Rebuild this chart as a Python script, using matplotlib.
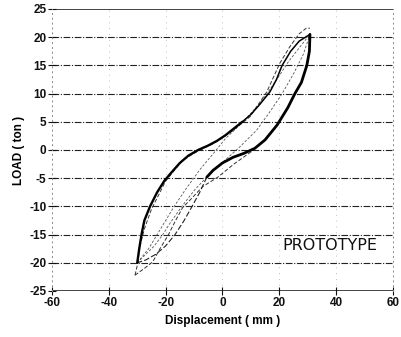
import matplotlib
matplotlib.use("Agg")
import matplotlib.pyplot as plt
import numpy as np

plt.rcParams["axes.unicode_minus"] = False
plt.rcParams["font.family"] = ["Liberation Sans", "DejaVu Sans"]

# ─── data ─────────────────────────────────────────────────────────────────────

x_ticks = [-60, -40, -20, 0, 20, 40, 60]
y_ticks = [-25, -20, -15, -10, -5, 0, 5, 10, 15, 20, 25]

# main cycle, loading branch: heavy lower part, lighter upper part
thick_up_x = [-30, -29.3, -28.5, -27.5, -25.5, -23, -20.5, -18, -15, -12, -8.6, -5, -2, 1, 4, 7]
thick_up_y = [-20, -17.5, -15, -12.5, -10, -7.5, -5.5, -4, -2.3, -1, 0, 0.8, 1.6, 2.6, 3.8, 5]
light_up_x = [7, 10, 13, 16.7, 19, 21, 24, 27, 30.8]
light_up_y = [5, 6.3, 8, 10.3, 12.5, 15, 17.5, 19.3, 20.5]
# main cycle, unloading branch (heavy part)
thick_dn_x = [30.8, 30.6, 29.7, 27.8, 25.5, 23, 19.2, 15, 11.4, 7.5, 3.7, 0, -3.3, -5.5]
thick_dn_y = [20.5, 17.5, 15, 12, 10, 7.5, 4.4, 1.8, 0.3, -0.6, -1.3, -2.3, -3.6, -4.8]
# tail of the unloading branch (thin)
thin_dn_x = [-5.5, -8, -10.7, -13.5, -16.7, -20, -23.5, -27, -30]
thin_dn_y = [-4.8, -7.5, -10, -12.5, -15, -17, -18.5, -19.5, -20]

# outer dashed cycle
outer_up_x = [-30.8, -30, -29, -27.5, -25, -20, -14, -9, -3, 3, 9.7, 15.6, 20.2, 23.7, 27, 29.5, 30.8]
outer_up_y = [-22.2, -20.5, -17, -14, -10.5, -5.5, -1.8, -0.3, 1.2, 3.2, 5.9, 10.3, 15.4, 18.3, 20.6, 21.6, 21.6]
outer_dn_x = [-30.8, -27.5, -24.5, -22, -19, -16.5, -14, -10.7, -7, -1.6, 4, 11]
outer_dn_y = [-22.2, -21.0, -19.8, -17.5, -15, -12.5, -10.2, -8.5, -6.5, -4.8, -2.5, 0]

# inner dashed cycles crossing the loop
inner1_x = [-30, -26, -23, -20, -17, -13, -8, -3, 1, 5, 10, 15, 19, 23, 27.3, 30.8]
inner1_y = [-20, -17.5, -15, -12.5, -10, -7, -3.5, -0.5, 2, 3.9, 6.5, 9.5, 12.4, 15.5, 18.3, 20.5]
inner2_x = [-30, -24, -21, -18.5, -14.3, -10, -5, 0, 6, 12, 17, 21, 25, 28.5, 30.8]
inner2_y = [-20, -17, -15, -13, -10, -7.2, -4.5, -2.2, 0.5, 3.5, 7, 10, 13.5, 17, 20.5]

label_text = "PROTOTYPE"
label_pos = (37.8, -17.0)

# ─── figure ───────────────────────────────────────────────────────────────────

fig = plt.figure(figsize=(4.02, 3.37), dpi=100)
ax = fig.add_axes([0.1294, 0.1365, 0.848, 0.8368])

ax.set_xlim(-60, 60)
ax.set_ylim(-25, 25)

# horizontal grid: dash-dot, vertical grid: faint dots
for yv in y_ticks:
    if yv in (-25, 25):
        ax.axhline(yv, color="#111111", lw=1.1, zorder=1)
    else:
        ax.axhline(yv, color="#222222", lw=0.8, ls=(0, (6, 1.5, 1, 1.5)), zorder=1)
for xv in x_ticks[1:-1]:
    ax.axvline(xv, color="#aaaaaa", lw=0.6, ls=(0, (1, 6)), zorder=1)

for side in ("left", "right"):
    ax.spines[side].set_linestyle((0, (1, 4)))
    ax.spines[side].set_color("#888888")
    ax.spines[side].set_linewidth(0.7)
for side in ("top", "bottom"):
    ax.spines[side].set_visible(False)

# loops
dash = dict(color="#333333", lw=0.7, ls=(0, (4, 2)), zorder=2)
ax.plot(outer_up_x, outer_up_y, **dash)
ax.plot(outer_dn_x, outer_dn_y, **dash)
ax.plot(inner1_x, inner1_y, color="#555555", lw=0.6, ls=(0, (3, 2)), zorder=2)
ax.plot(inner2_x, inner2_y, color="#555555", lw=0.6, ls=(0, (3, 2)), zorder=2)
ax.plot(thin_dn_x, thin_dn_y, color="#222222", lw=0.8, ls=(0, (5, 2)), zorder=3)
ax.plot(thick_up_x, thick_up_y, color="black", lw=1.7, zorder=4,
        solid_capstyle="round", solid_joinstyle="round")
ax.plot(light_up_x, light_up_y, color="black", lw=1.1, zorder=4,
        solid_capstyle="round", solid_joinstyle="round")
ax.plot(thick_dn_x, thick_dn_y, color="black", lw=2.0, zorder=4,
        solid_capstyle="round", solid_joinstyle="round")

ax.text(*label_pos, label_text, ha="center", va="center", fontsize=11.5,
        family=["Liberation Sans Narrow", "DejaVu Sans"], color="#111111")

ax.set_xticks(x_ticks)
ax.set_yticks(y_ticks)
ax.set_xticklabels([str(v) for v in x_ticks], fontweight="bold")
ax.set_yticklabels([str(v) for v in y_ticks], fontweight="bold")
ax.tick_params(axis="both", direction="inout", length=6, width=0.8,
               labelsize=8.5, colors="#111111", pad=1)
ax.tick_params(axis="y", right=False)

ax.set_xlabel("Displacement ( mm )", fontsize=8.5, fontweight="bold", labelpad=5)
ax.set_ylabel("LOAD ( ton )", fontsize=8.5, fontweight="bold", labelpad=3)

fig.savefig("out.png", dpi=100)
